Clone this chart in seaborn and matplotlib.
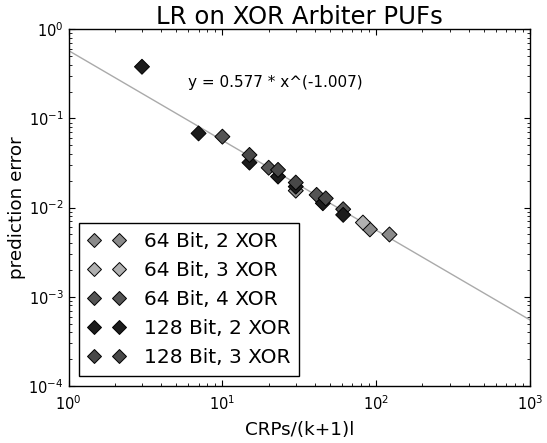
import matplotlib
matplotlib.use("Agg")
import matplotlib.pyplot as plt
from matplotlib.lines import Line2D
from matplotlib.ticker import LogLocator, NullFormatter
import numpy as np
import pandas as pd
import seaborn as sns

# ---- data ----
series = ["64 Bit, 2 XOR", "64 Bit, 3 XOR", "64 Bit, 4 XOR", "128 Bit, 2 XOR", "128 Bit, 3 XOR"]
colors = ["#8a8a8a", "#b0b0b0", "#545454", "#1c1c1c", "#484848"]

x_64_2 = [30, 91, 122]
y_64_2 = [0.0155, 0.0057, 0.0050]
x_64_3 = [82]
y_64_3 = [0.0068]
x_64_4 = [10, 20, 41, 61]
y_64_4 = [0.0625, 0.028, 0.0139, 0.0096]
x_128_2 = [3, 7, 15, 23, 30, 45, 61]
y_128_2 = [0.38, 0.068, 0.032, 0.0223, 0.0172, 0.0112, 0.0083]
x_128_3 = [15, 23, 30, 47]
y_128_3 = [0.039, 0.0265, 0.0191, 0.0127]

fit_a = 0.577
fit_b = -1.007
fit_x = [1, 1000]

title = "LR on XOR Arbiter PUFs"
xlabel = "CRPs/(k+1)l"
ylabel = "prediction error"
fit_text = "y = 0.577 * x^(-1.007)"

xs = [x_64_2, x_64_3, x_64_4, x_128_2, x_128_3]
ys = [y_64_2, y_64_3, y_64_4, y_128_2, y_128_3]
rows = []
for name, xv, yv in zip(series, xs, ys):
    for a, b in zip(xv, yv):
        rows.append({"x": a, "y": b, "series": name})
df = pd.DataFrame(rows)

sns.set_style("ticks")
plt.rcParams["font.family"] = ["DejaVu Sans"]
plt.rcParams["text.color"] = "black"
plt.rcParams["axes.labelcolor"] = "black"

fig = plt.figure(figsize=(5.47, 4.43), dpi=100)
ax = fig.add_axes([0.1254, 0.1287, 0.8435, 0.8052])

fx = np.array(fit_x, dtype=float)
ax.plot(fx, fit_a * fx ** fit_b, color="#aaaaaa", lw=1.0, zorder=1)

sns.scatterplot(data=df, x="x", y="y", hue="series", hue_order=series,
                palette=dict(zip(series, colors)), marker="D", s=58,
                edgecolor="black", linewidth=0.7, legend=False, ax=ax, zorder=3)

ax.set_xscale("log")
ax.set_yscale("log")
ax.set_xlim(1, 1000)
ax.set_ylim(1e-4, 1)

ax.xaxis.set_minor_locator(LogLocator(base=10, subs=np.arange(2, 10)))
ax.yaxis.set_minor_locator(LogLocator(base=10, subs=np.arange(2, 10)))
ax.xaxis.set_minor_formatter(NullFormatter())
ax.yaxis.set_minor_formatter(NullFormatter())
ax.tick_params(which="both", direction="in", top=True, right=True, colors="black",
               labelsize=10.5)
ax.tick_params(which="major", length=4, width=0.8)
ax.tick_params(which="minor", length=2, width=0.6)
ax.tick_params(axis="x", which="major", pad=6)
for sp in ax.spines.values():
    sp.set_color("black")
    sp.set_linewidth(1.0)

ax.set_title(title, fontsize=17.6, pad=4, color="black")
ax.set_xlabel(xlabel, fontsize=13.2, labelpad=6)
ax.set_ylabel(ylabel, fontsize=13.2, labelpad=1.5)

ax.text(6.0, 0.25, fit_text, fontsize=11, ha="left", va="center", color="black")

handles = [Line2D([], [], linestyle="", marker="D", markersize=7.2,
                  markerfacecolor=c, markeredgecolor="black", markeredgewidth=0.7)
           for c in colors]
leg = ax.legend(handles, series, loc="lower left", bbox_to_anchor=(0.023, 0.028),
                borderaxespad=0, numpoints=2, fontsize=14.5, handlelength=1.85,
                handletextpad=0.9, labelspacing=0.5, borderpad=0.45,
                fancybox=False, framealpha=1, edgecolor="black")
leg.get_frame().set_linewidth(1.0)

fig.savefig("out.png", dpi=100)
